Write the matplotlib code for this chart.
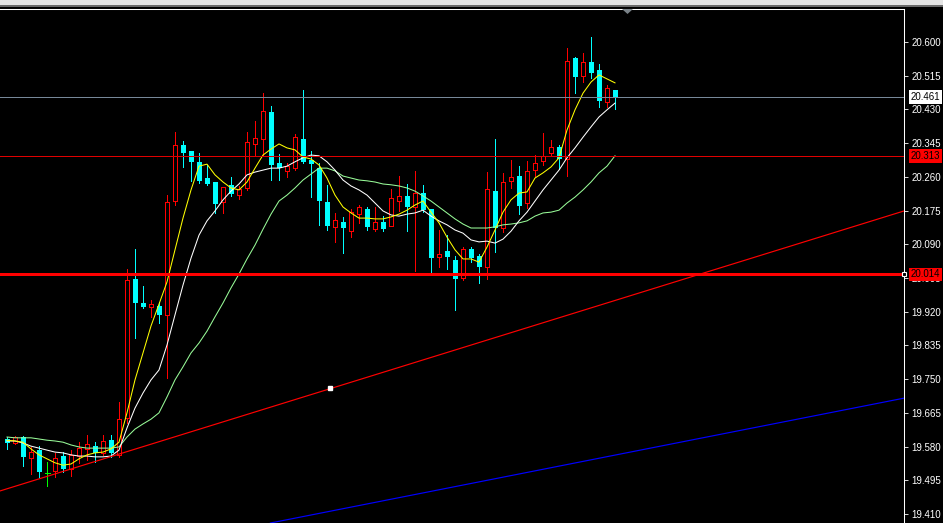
import matplotlib
matplotlib.use('Agg')
import matplotlib.pyplot as plt
from matplotlib.patches import Rectangle, Polygon
from matplotlib.transforms import blended_transform_factory

plt.rcParams['font.family'] = ['Liberation Sans', 'DejaVu Sans']

# candle data, bar index 0 = first visible bar on the left
opens = [19.599, 19.589, 19.604, 19.551, 19.571, 19.513, 19.518, 19.556, 19.523, 19.556,
         19.574, 19.581, 19.564, 19.596, 19.559, 19.652, 20.002, 19.942, 19.932, 19.934,
         19.912, 20.199, 20.340, 20.325, 20.297, 20.257, 20.247, 20.197, 20.239, 20.214,
         20.232, 20.343, 20.355, 20.424, 20.295, 20.275, 20.282, 20.355, 20.302, 20.282,
         20.197, 20.134, 20.146, 20.123, 20.166, 20.179, 20.129, 20.146, 20.136, 20.199,
         20.212, 20.184, 20.219, 20.179, 20.058, 20.073, 20.050, 20.005, 20.078, 20.060,
         20.033, 20.224, 20.131, 20.250, 20.262, 20.194, 20.277, 20.300, 20.320, 20.335,
         20.305, 20.560, 20.514, 20.550, 20.529, 20.449, 20.479]
highs = [19.604, 19.607, 19.607, 19.579, 19.581, 19.541, 19.564, 19.566, 19.571, 19.591,
         19.609, 19.591, 19.609, 19.609, 19.692, 20.028, 20.078, 19.985, 19.949, 19.944,
         20.214, 20.373, 20.350, 20.325, 20.320, 20.290, 20.247, 20.234, 20.260, 20.237,
         20.373, 20.401, 20.471, 20.439, 20.318, 20.295, 20.368, 20.479, 20.325, 20.295,
         20.239, 20.169, 20.159, 20.179, 20.189, 20.184, 20.184, 20.161, 20.229, 20.262,
         20.242, 20.275, 20.239, 20.179, 20.126, 20.113, 20.060, 20.083, 20.083, 20.065,
         20.272, 20.355, 20.270, 20.302, 20.287, 20.300, 20.315, 20.371, 20.353, 20.340,
         20.585, 20.562, 20.572, 20.613, 20.545, 20.492, 20.479]
lows = [19.574, 19.586, 19.531, 19.511, 19.503, 19.481, 19.503, 19.516, 19.505, 19.538,
        19.546, 19.541, 19.559, 19.554, 19.554, 19.639, 19.854, 19.929, 19.907, 19.892,
        19.753, 20.189, 20.285, 20.250, 20.244, 20.239, 20.169, 20.169, 20.212, 20.204,
        20.227, 20.315, 20.315, 20.252, 20.252, 20.260, 20.277, 20.295, 20.209, 20.139,
        20.126, 20.096, 20.068, 20.108, 20.144, 20.126, 20.123, 20.123, 20.136, 20.174,
        20.123, 20.023, 20.171, 20.018, 20.033, 20.028, 19.924, 20.000, 20.045, 19.992,
        20.002, 20.071, 20.121, 20.232, 20.166, 20.181, 20.262, 20.290, 20.315, 20.280,
        20.262, 20.471, 20.499, 20.509, 20.436, 20.436, 20.431]
closes = [19.589, 19.604, 19.554, 19.566, 19.516, 19.513, 19.551, 19.523, 19.559, 19.576,
          19.586, 19.564, 19.594, 19.564, 19.649, 20.000, 19.942, 19.932, 19.939, 19.912,
          20.197, 20.340, 20.320, 20.297, 20.250, 20.242, 20.192, 20.234, 20.217, 20.229,
          20.348, 20.358, 20.426, 20.290, 20.282, 20.287, 20.360, 20.297, 20.292, 20.199,
          20.136, 20.151, 20.131, 20.171, 20.184, 20.134, 20.146, 20.129, 20.207, 20.212,
          20.184, 20.219, 20.176, 20.055, 20.065, 20.058, 20.002, 20.078, 20.055, 20.033,
          20.229, 20.131, 20.247, 20.260, 20.186, 20.275, 20.295, 20.313, 20.335, 20.305,
          20.552, 20.512, 20.550, 20.522, 20.451, 20.484, 20.461]

# moving averages as shown on the chart
ma_fast = [19.596, 19.594, 19.591, 19.574, 19.559, 19.549, 19.539, 19.533, 19.536, 19.549,
           19.559, 19.564, 19.566, 19.574, 19.591, 19.665, 19.748, 19.816, 19.884, 19.939,
           19.995, 20.076, 20.156, 20.227, 20.287, 20.292, 20.265, 20.247, 20.232, 20.227,
           20.247, 20.282, 20.315, 20.330, 20.343, 20.333, 20.328, 20.310, 20.305, 20.290,
           20.257, 20.214, 20.184, 20.169, 20.156, 20.156, 20.154, 20.154, 20.159, 20.166,
           20.176, 20.189, 20.199, 20.171, 20.144, 20.108, 20.076, 20.053, 20.053, 20.045,
           20.083, 20.126, 20.171, 20.202, 20.219, 20.222, 20.257, 20.270, 20.285, 20.308,
           20.378, 20.429, 20.471, 20.499, 20.517, 20.507, 20.497]
ma_mid = [19.594, 19.594, 19.589, 19.581, 19.576, 19.571, 19.566, 19.564, 19.559, 19.556,
          19.556, 19.554, 19.554, 19.556, 19.571, 19.627, 19.677, 19.715, 19.748, 19.773,
          19.836, 19.912, 19.987, 20.055, 20.113, 20.149, 20.174, 20.202, 20.224, 20.242,
          20.265, 20.272, 20.277, 20.282, 20.282, 20.287, 20.298, 20.308, 20.315, 20.313,
          20.298, 20.277, 20.252, 20.237, 20.227, 20.214, 20.194, 20.174, 20.164, 20.161,
          20.166, 20.169, 20.176, 20.161, 20.149, 20.139, 20.126, 20.118, 20.101, 20.096,
          20.098, 20.093, 20.103, 20.123, 20.149, 20.171, 20.199, 20.227, 20.252, 20.277,
          20.308, 20.333, 20.360, 20.386, 20.411, 20.429, 20.446]
ma_slow = [19.604, 19.602, 19.602, 19.602, 19.599, 19.596, 19.594, 19.591, 19.584, 19.579,
           19.576, 19.576, 19.576, 19.576, 19.579, 19.604, 19.624, 19.637, 19.649, 19.665,
           19.705, 19.748, 19.781, 19.816, 19.841, 19.871, 19.907, 19.942, 19.980, 20.015,
           20.053, 20.088, 20.128, 20.166, 20.199, 20.214, 20.232, 20.252, 20.267, 20.282,
           20.282, 20.275, 20.262, 20.257, 20.252, 20.250, 20.247, 20.242, 20.240, 20.237,
           20.232, 20.224, 20.212, 20.199, 20.184, 20.169, 20.154, 20.141, 20.131, 20.131,
           20.131, 20.134, 20.139, 20.141, 20.144, 20.149, 20.161, 20.169, 20.171, 20.176,
           20.194, 20.209, 20.227, 20.247, 20.270, 20.287, 20.313]

price_ticks = [20.600, 20.515, 20.430, 20.345, 20.260, 20.175, 20.090, 20.005,
               19.920, 19.835, 19.750, 19.665, 19.580, 19.495, 19.410]

bid_price = 20.461
level_upper = 20.313
level_support = 20.014

# trend lines, (bar index, price) pairs
red_trend = [(-0.875, 19.468), (112.125, 20.174)]
red_trend_anchor = (40.375, 19.727)
blue_trend = [(32.875, 19.387), (112.125, 19.702)]

W, H = 943, 523
fig = plt.figure(figsize=(W / 100, H / 100), dpi=100, facecolor='black')

# window title strip at the very top
fig.patches.append(Rectangle((0, 1 - 5 / H), 1, 5 / H, transform=fig.transFigure,
                             facecolor='#e4e4e4', edgecolor='none'))
fig.patches.append(Rectangle((0, 1 - 7 / H), 1, 2 / H, transform=fig.transFigure,
                             facecolor='#6a6a6a', edgecolor='none'))

ax = fig.add_axes([0, 0, 904 / W, (H - 8.5) / H])
ax.set_facecolor('black')
ax.set_xlim(-0.875, 112.125)
ax.set_ylim(19.3872, 20.6845)

lw = 0.6  # about one pixel
for i in range(len(opens)):
    o, h, l, c = opens[i], highs[i], lows[i], closes[i]
    if c > o:
        ax.vlines(i, l, h, color='red', lw=lw, antialiased=False, zorder=2)
        ax.add_patch(Rectangle((i - 0.25, o), 0.5, c - o, facecolor='black',
                               edgecolor='red', lw=lw, antialiased=False, zorder=3))
    elif c < o:
        ax.vlines(i, l, h, color='cyan', lw=lw, antialiased=False, zorder=2)
        ax.add_patch(Rectangle((i - 0.3125, c), 0.625, o - c, facecolor='cyan',
                               edgecolor='none', antialiased=False, zorder=3))
    else:
        ax.vlines(i, l, h, color='lime', lw=lw, antialiased=False, zorder=2)
        ax.hlines(c, i - 0.3125, i + 0.3125, color='lime', lw=lw, antialiased=False, zorder=3)

bars = list(range(len(closes)))
ma_lw = 0.75
ax.plot(bars, ma_slow, color='#98fb98', lw=ma_lw, zorder=4)
ax.plot(bars, ma_mid, color='white', lw=ma_lw, zorder=4)
ax.plot(bars, ma_fast, color='yellow', lw=ma_lw, zorder=4)

# horizontal levels and trend lines
ax.axhline(bid_price, color='#778899', lw=lw, antialiased=False, zorder=5)
ax.axhline(level_upper, color='#e00000', lw=0.5, antialiased=False, zorder=5)
ax.axhline(level_support, color='red', lw=1.0, antialiased=False, zorder=5)
ax.axline(red_trend[0], red_trend[1], color='red', lw=0.85, zorder=5)
ax.axline(blue_trend[0], blue_trend[1], color='blue', lw=0.85, zorder=5)
ax.plot(*red_trend_anchor, marker='s', ms=2.2, color='white', zorder=6)

# price scale on the right
ax.yaxis.tick_right()
ax.set_yticks(price_ticks)
ax.set_yticklabels(['%.3f' % p for p in price_ticks])
ax.tick_params(axis='y', colors='white', length=3, width=lw, labelsize=7, pad=2.5)
ax.set_xticks([])
for side in ['left', 'bottom']:
    ax.spines[side].set_visible(False)
for side in ['top', 'right']:
    ax.spines[side].set_color('white')
    ax.spines[side].set_linewidth(0.75)

# price tags on the scale
trans = blended_transform_factory(ax.transAxes, ax.transData)
tags = [(bid_price, 'white'), (level_upper, 'red'), (level_support, 'red')]
for price, bg in tags:
    ax.text(1.0075, price, '%.3f' % price, transform=trans, ha='left', va='center',
            fontsize=7, color='black', clip_on=False, zorder=10,
            bbox=dict(boxstyle='square,pad=0.18', facecolor=bg, edgecolor='none'))
ax.plot([1.0], [level_support], marker='s', ms=3.5, mfc='black', mec='white', mew=0.8,
        transform=trans, clip_on=False, zorder=11)

# chart shift marker
fig.patches.append(Polygon([(622 / W, 1 - 9 / H), (633 / W, 1 - 9 / H), (627.5 / W, 1 - 14 / H)],
                           closed=True, transform=fig.transFigure,
                           facecolor='#7a8288', edgecolor='none'))

fig.savefig('out.png', dpi=100, facecolor='black')
